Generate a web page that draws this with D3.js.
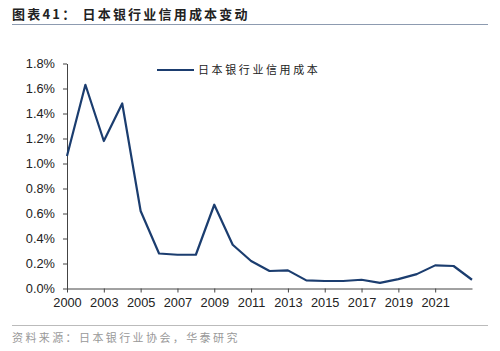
<!DOCTYPE html>
<html>
<head>
<meta charset="utf-8">
<script src="https://cdn.jsdelivr.net/npm/d3@7"></script>
<style>
  body { margin: 0; background: #fff; }
  svg text { font-family: "Liberation Sans", Arial, sans-serif; }
  .cjk { font-family: "Noto Sans CJK SC", sans-serif; }
</style>
</head>
<body>
<div id="chart"></div>
<script>
// credit cost of Japanese banks, %
const categories = d3.range(23); // one point per fiscal year
const creditCost = [1.06, 1.63, 1.18, 1.48, 0.62, 0.28, 0.27, 0.27, 0.67, 0.35, 0.22,
                    0.14, 0.145, 0.065, 0.06, 0.06, 0.07, 0.045, 0.075, 0.115, 0.185, 0.18, 0.07];
const tickIdx = [0, 2, 4, 6, 8, 10, 12, 14, 16, 18, 20];
const tickLabels = ['2000', '2003', '2005', '2007', '2009', '2011', '2013', '2015', '2017', '2019', '2021'];
const yTicks = [0, 0.2, 0.4, 0.6, 0.8, 1.0, 1.2, 1.4, 1.6, 1.8];
const seriesName = '日本银行业信用成本';

const width = 500, height = 351;
const margin = {left: 67, right: 28, top: 63.5, bottom: 62.5};

const svg = d3.select('#chart').append('svg')
    .attr('width', width).attr('height', height);

// title + rule
svg.append('text').attr('class', 'cjk')
    .attr('x', 12).attr('y', 19)
    .attr('font-size', 13).attr('font-weight', 'bold')
    .attr('letter-spacing', 2.2).attr('fill', '#222')
    .text('图表41：  日本银行业信用成本变动');
svg.append('line').attr('x1', 12).attr('x2', 488).attr('y1', 24.5).attr('y2', 24.5)
    .attr('stroke', '#8d9bb0').attr('stroke-width', 1);

// footer
svg.append('line').attr('x1', 12).attr('x2', 488).attr('y1', 325.5).attr('y2', 325.5)
    .attr('stroke', '#bbb').attr('stroke-width', 1);
svg.append('text').attr('class', 'cjk')
    .attr('x', 12).attr('y', 342)
    .attr('font-size', 11).attr('letter-spacing', 2.4).attr('fill', '#999')
    .text('资料来源：日本银行业协会，华泰研究');

const x = d3.scalePoint()
    .domain(categories)
    .range([margin.left, width - margin.right]);
const y = d3.scaleLinear()
    .domain([0, 1.8])
    .range([height - margin.bottom, margin.top]);

const xAxis = svg.append('g')
    .attr('transform', 'translate(0,' + (height - margin.bottom) + ')')
    .call(d3.axisBottom(x).tickValues(tickIdx)
        .tickFormat((d) => tickLabels[tickIdx.indexOf(d)])
        .tickSize(4).tickPadding(5).tickSizeOuter(0));
const yAxis = svg.append('g')
    .attr('transform', 'translate(' + margin.left + ',0)')
    .call(d3.axisLeft(y).tickValues(yTicks)
        .tickFormat((d) => d.toFixed(1) + '%')
        .tickSize(4).tickPadding(8).tickSizeOuter(0));

[xAxis, yAxis].forEach((g) => {
    g.select('.domain').attr('stroke', '#444');
    g.selectAll('.tick line').attr('stroke', '#444');
    g.selectAll('.tick text').attr('font-size', 12.8).attr('fill', '#222')
        .style('font-family', '"Liberation Sans", Arial, sans-serif');
});

const line = d3.line()
    .x((d, i) => x(categories[i]))
    .y((d) => y(d));

svg.append('path')
    .datum(creditCost)
    .attr('d', line)
    .attr('fill', 'none')
    .attr('stroke', '#1b3d6f')
    .attr('stroke-width', 2.2)
    .attr('stroke-linejoin', 'round');

// legend
const lg = svg.append('g').attr('transform', 'translate(157,70)');
lg.append('line').attr('x1', 0).attr('x2', 37).attr('y1', 0).attr('y2', 0)
    .attr('stroke', '#1b3d6f').attr('stroke-width', 2.2);
lg.append('text').attr('class', 'cjk')
    .attr('x', 41).attr('y', 4)
    .attr('font-size', 11).attr('letter-spacing', 2.6).attr('fill', '#222')
    .text(seriesName);
</script>
</body>
</html>
